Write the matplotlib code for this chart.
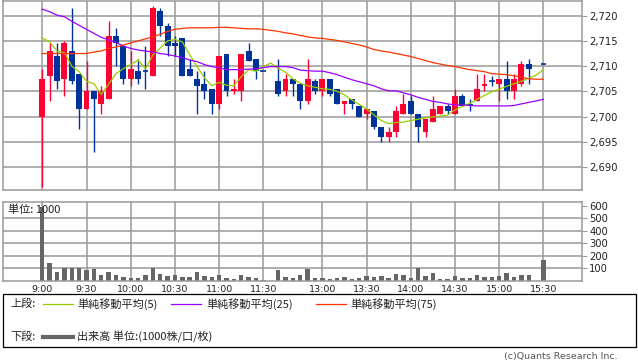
import numpy as np
import matplotlib
matplotlib.use('Agg')
import matplotlib.pyplot as plt
from matplotlib.patches import Rectangle
from matplotlib.lines import Line2D
from matplotlib.ticker import FuncFormatter

plt.rcParams['font.family'] = ['DejaVu Sans', 'Noto Sans CJK JP']
JP = ['Noto Sans CJK JP', 'DejaVu Sans']

nan = np.nan

# 5分足 (スロット 31 は昼休み, 67 は引け前の空き)
opens = [2700.0, 2708.0, 2712.0, 2707.5, 2713.0, 2708.5, 2701.5, 2705.0, 2702.5, 2703.5,
         2716.0, 2714.0, 2707.5, 2709.0, 2709.0, 2708.0, 2721.0, 2718.0, 2714.5, 2715.5,
         2709.5, 2707.5, 2706.5, 2705.5, 2702.5, 2712.5, 2705.0, 2705.0, 2713.0, 2711.5,
         2709.0, nan, 2707.0, 2705.0, 2707.5, 2706.5, 2703.0, 2707.0, 2705.0, 2707.5,
         2705.5, 2702.5, 2703.5, 2702.0, 2700.5, 2701.0, 2698.0, 2696.0, 2697.0, 2700.5,
         2703.0, 2700.5, 2697.0, 2699.0, 2700.5, 2702.0, 2700.5, 2704.0, 2702.5, 2703.0,
         2706.0, 2707.0, 2706.5, 2707.5, 2705.0, 2706.5, 2710.5, nan, 2710.5]
highs = [2709.5, 2714.5, 2714.5, 2715.0, 2721.5, 2708.5, 2711.0, 2705.0, 2706.0, 2719.0,
         2717.5, 2714.0, 2713.0, 2711.5, 2714.0, 2722.0, 2721.5, 2718.5, 2716.0, 2715.5,
         2711.5, 2709.0, 2709.0, 2705.5, 2712.0, 2712.5, 2707.5, 2712.5, 2714.5, 2711.5,
         2709.0, nan, 2711.5, 2708.5, 2707.5, 2706.5, 2711.5, 2707.5, 2707.5, 2707.5,
         2705.5, 2703.0, 2703.5, 2702.0, 2701.5, 2701.0, 2698.0, 2698.0, 2702.0, 2704.5,
         2704.0, 2700.5, 2699.5, 2704.0, 2702.0, 2702.5, 2705.5, 2704.5, 2703.5, 2708.5,
         2708.5, 2708.0, 2707.5, 2711.0, 2708.5, 2711.0, 2711.5, nan, 2710.5]
lows = [2686.0, 2703.0, 2705.5, 2704.0, 2706.5, 2697.5, 2701.5, 2693.0, 2700.5, 2703.5,
        2710.0, 2706.5, 2706.0, 2706.5, 2705.5, 2708.0, 2716.0, 2712.0, 2712.0, 2708.0,
        2708.0, 2700.5, 2703.5, 2700.5, 2701.5, 2704.0, 2704.5, 2703.0, 2711.0, 2707.5,
        2709.0, nan, 2704.0, 2704.0, 2704.0, 2701.5, 2702.5, 2704.5, 2704.0, 2704.0,
        2702.5, 2700.5, 2701.5, 2700.0, 2699.5, 2697.5, 2695.0, 2695.0, 2696.0, 2700.5,
        2700.5, 2695.0, 2696.0, 2699.0, 2700.5, 2700.5, 2700.5, 2702.0, 2701.0, 2703.0,
        2705.0, 2706.0, 2703.0, 2703.5, 2703.5, 2706.0, 2706.5, nan, 2710.5]
closes = [2707.5, 2713.0, 2707.0, 2714.5, 2707.0, 2701.5, 2705.0, 2703.5, 2705.0, 2716.0,
          2714.5, 2707.5, 2709.5, 2707.5, 2709.0, 2721.5, 2718.0, 2714.0, 2714.0, 2708.0,
          2708.0, 2706.0, 2705.0, 2702.5, 2712.0, 2705.0, 2705.5, 2712.5, 2711.0, 2709.0,
          2709.0, nan, 2704.5, 2707.5, 2706.5, 2703.0, 2707.5, 2705.0, 2707.5, 2704.5,
          2702.5, 2703.0, 2702.5, 2700.0, 2701.5, 2698.0, 2696.0, 2697.0, 2701.0, 2702.5,
          2700.5, 2698.0, 2699.5, 2701.5, 2702.0, 2701.0, 2704.0, 2702.0, 2702.0, 2705.5,
          2706.5, 2707.0, 2707.5, 2705.0, 2707.5, 2710.5, 2709.5, nan, 2710.5]

ma5 = [2715.6, 2714.8, 2713.0, 2712.7, 2710.0, 2708.9, 2707.0, 2706.5, 2704.4, 2706.4,
       2708.5, 2709.5, 2710.3, 2711.2, 2709.5, 2712.2, 2713.6, 2715.0, 2715.3, 2714.8,
       2712.3, 2709.9, 2707.7, 2706.1, 2706.8, 2706.2, 2706.1, 2707.9, 2709.3, 2709.0,
       2709.9, 2710.6, 2709.6, 2708.8, 2707.5, 2706.6, 2706.1, 2705.8, 2705.5, 2705.4,
       2705.0, 2704.3, 2703.3, 2702.4, 2701.5, 2700.3, 2699.2, 2698.6, 2698.8, 2698.9,
       2699.2, 2699.5, 2699.7, 2699.9, 2700.1, 2700.3, 2701.3, 2702.0, 2702.6, 2703.4,
       2704.2, 2704.9, 2705.4, 2706.0, 2706.5, 2707.0, 2707.6, 2708.2, 2709.3]
ma25 = [2721.3, 2720.8, 2720.1, 2719.8, 2718.9, 2718.1, 2717.3, 2716.5, 2715.7, 2715.2,
        2714.7, 2714.0, 2713.5, 2713.2, 2713.0, 2712.8, 2712.5, 2712.3, 2712.0, 2711.7,
        2711.2, 2710.9, 2710.3, 2709.9, 2709.7, 2709.3, 2709.3, 2709.3, 2709.4, 2709.5,
        2709.7, 2709.9, 2709.9, 2709.9, 2709.7, 2709.2, 2709.1, 2709.0, 2709.0, 2708.7,
        2708.3, 2707.8, 2707.3, 2706.9, 2706.5, 2706.1, 2705.5, 2705.1, 2705.1, 2704.7,
        2704.3, 2703.8, 2703.4, 2703.0, 2702.8, 2702.5, 2702.3, 2702.3, 2702.2, 2702.1,
        2702.1, 2702.1, 2702.1, 2702.1, 2702.2, 2702.5, 2702.8, 2703.1, 2703.4]
ma75 = [2712.5, 2712.5, 2712.5, 2712.5, 2712.5, 2712.5, 2712.5, 2712.8, 2713.0, 2713.5,
        2713.8, 2714.2, 2714.6, 2715.0, 2715.4, 2715.8, 2716.3, 2716.9, 2717.3, 2717.5,
        2717.6, 2717.6, 2717.6, 2717.6, 2717.7, 2717.7, 2717.6, 2717.5, 2717.4, 2717.4,
        2717.3, 2717.1, 2716.9, 2716.6, 2716.4, 2716.1, 2715.8, 2715.6, 2715.5, 2715.3,
        2715.1, 2714.8, 2714.5, 2714.2, 2713.8, 2713.3, 2713.0, 2712.8, 2712.5, 2712.2,
        2711.9, 2711.5, 2711.1, 2710.7, 2710.4, 2710.1, 2709.9, 2709.6, 2709.3, 2709.1,
        2708.9, 2708.5, 2708.4, 2708.3, 2708.1, 2707.8, 2707.5, 2707.4, 2707.4]

volumes = [590, 143, 70, 97, 102, 97, 81, 89, 48, 70,
           48, 30, 22, 22, 48, 97, 54, 38, 48, 30,
           30, 70, 35, 30, 48, 22, 14, 48, 30, 22,
           6, nan, 81, 32, 22, 48, 89, 22, 22, 14,
           22, 30, 14, 22, 40, 30, 40, 22, 54, 46,
           22, 97, 38, 62, 14, 14, 38, 22, 22, 46,
           30, 30, 38, 62, 30, 46, 46, nan, 167]

time_labels = ['9:00', '9:30', '10:00', '10:30', '11:00', '11:30',
               '13:00', '13:30', '14:00', '14:30', '15:00', '15:30']
time_slots = [0, 6, 12, 18, 24, 30, 38, 44, 50, 56, 62, 68]
price_ticks = [2690, 2695, 2700, 2705, 2710, 2715, 2720]
vol_ticks = [100, 200, 300, 400, 500, 600]

W, H = 638, 362
RED = '#ff0033'
BLUE = '#003399'
GRID = '#999999'


def fx(px):
    return px / W


def fy(py):
    return 1 - py / H


o = np.array(opens)
h = np.array(highs)
l = np.array(lows)
c = np.array(closes)
x = np.arange(len(o))

fig = plt.figure(figsize=(W / 100, H / 100), dpi=100)

# 上段: ローソク足
ax = fig.add_axes([fx(3.3), fy(190.3), fx(582.3 - 3.3), (190.3 - 0.7) / H])
ax.set_xlim(-5.29, 73.27)
ax.set_ylim(2685.36, 2722.98)
for t in time_slots:
    ax.axvline(t, color=GRID, lw=1.1, zorder=0)
for p in price_ticks:
    ax.axhline(p, color=GRID, lw=1.1, zorder=0)

up = c > o
cols = np.where(up, RED, BLUE)
ok = ~np.isnan(o)
ax.vlines(x[ok], l[ok], h[ok], colors=cols[ok], lw=1.0, zorder=2)
body = np.abs(c - o)
flat = ok & (body == 0)
box = ok & (body > 0)
ax.bar(x[box], body[box], bottom=np.minimum(o, c)[box], width=0.8,
       color=cols[box], lw=0, zorder=3)
ax.hlines(c[flat], x[flat] - 0.4, x[flat] + 0.4, colors=cols[flat], lw=1.2, zorder=3)

ax.plot(x, ma5, color='#99cc00', lw=0.9, zorder=4)
ax.plot(x, ma25, color='#9900ff', lw=0.9, zorder=4)
ax.plot(x, ma75, color='#ff3300', lw=0.9, zorder=4)

ax.set_xticks([])
ax.yaxis.tick_right()
ax.set_yticks(price_ticks)
ax.yaxis.set_major_formatter(FuncFormatter(lambda v, _: f'{int(v):,}'))
ax.tick_params(axis='y', length=3.5, width=0.8, color=GRID, pad=1.5,
               labelsize=7.2, labelcolor='#222222')
for s in ax.spines.values():
    s.set_color(GRID)
    s.set_linewidth(1.1)

# 下段: 出来高
av = fig.add_axes([fx(3.3), fy(280.5), fx(582.3 - 3.3), (280.5 - 201.5) / H])
av.set_xlim(-5.29, 73.27)
av.set_ylim(0, 637)
for t in time_slots:
    av.axvline(t, color=GRID, lw=1.1, zorder=0)
for v in vol_ticks[:-1]:
    av.axhline(v, color=GRID, lw=1.1, zorder=0)
vol = np.array(volumes)
vk = ~np.isnan(vol)
av.bar(x[vk], vol[vk], width=0.6, color='#666666', lw=0, zorder=2)
av.yaxis.tick_right()
av.set_yticks(vol_ticks)
av.tick_params(axis='y', length=3.5, width=0.8, color=GRID, pad=1.5,
               labelsize=7.2, labelcolor='#222222')
av.set_xticks(time_slots)
av.set_xticklabels(time_labels)
av.tick_params(axis='x', length=0, pad=3, labelsize=6.8, labelcolor='#222222')
for s in av.spines.values():
    s.set_color(GRID)
    s.set_linewidth(1.1)
av.text(fx(8), fy(210), '単位: 1000', transform=fig.transFigure, family=JP,
        fontsize=8, va='center', ha='left', color='#222222', zorder=5)

# 凡例
fig.patches.append(Rectangle((fx(3), fy(347)), fx(633), (347 - 293.5) / H,
                             transform=fig.transFigure, fill=False,
                             edgecolor='black', lw=0.9))
row1, row2 = 304, 336.5
fig.text(fx(10), fy(row1), '上段:', family=JP, fontsize=8, va='center', color='#222222')
items = [(43, 77, '#99cc00', '単純移動平均(5)'),
         (171, 206, '#9900ff', '単純移動平均(25)'),
         (316, 350, '#ff3300', '単純移動平均(75)')]
for x0, tx, col, lab in items:
    fig.lines.append(Line2D([fx(x0), fx(x0 + 30)], [fy(row1), fy(row1)],
                            transform=fig.transFigure, color=col, lw=0.9))
    fig.text(fx(tx), fy(row1), lab, family=JP, fontsize=8, va='center', color='#222222')
fig.text(fx(10), fy(row2), '下段:', family=JP, fontsize=8, va='center', color='#222222')
fig.lines.append(Line2D([fx(43), fx(73)], [fy(row2), fy(row2)],
                        transform=fig.transFigure, color='#666666', lw=3))
fig.text(fx(77), fy(row2), '出来高 単位:(1000株/口/枚)', family=JP, fontsize=8,
         va='center', color='#222222')
fig.text(fx(618), fy(356), '(c)Quants Research Inc.', fontsize=6.8, ha='right',
         va='center', color='#555555')

fig.savefig('out.png', dpi=100)
